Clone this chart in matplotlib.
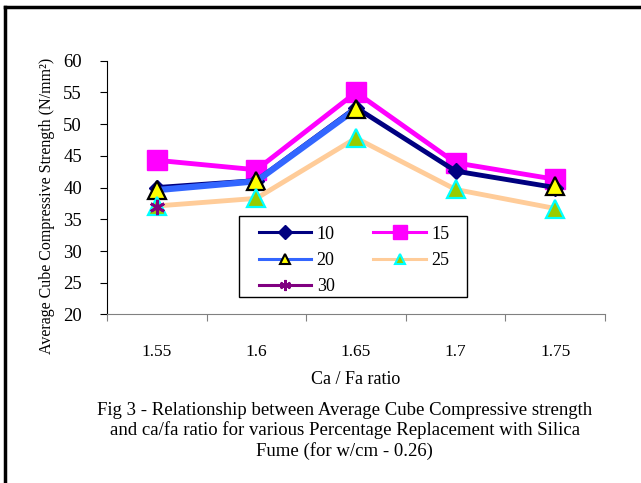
import numpy as np
import matplotlib
matplotlib.use("Agg")
import matplotlib.pyplot as plt
from matplotlib.lines import Line2D
from matplotlib.patches import Rectangle

plt.rcParams["font.family"] = ["Liberation Serif", "DejaVu Serif"]

# ca/fa ratios (categorical x axis)
ratios = ["1.55", "1.6", "1.65", "1.7", "1.75"]

# average cube compressive strength (N/mm2) per % silica fume replacement
sf10 = [40.0, 41.1, 52.6, 42.6, 40.0]
sf15 = [44.3, 42.8, 55.0, 43.9, 41.3]
sf20 = [39.6, 41.0, 52.4, np.nan, 40.2]
sf25 = [37.1, 38.3, 47.8, 39.7, 36.7]
sf30 = [36.9, np.nan, np.nan, np.nan, np.nan]

fig = plt.figure(figsize=(6.41, 4.83), dpi=100)
ax = fig.add_axes([0.1669, 0.3489, 0.777, 0.5255])
x = np.arange(len(ratios))

styles = [
    ("10", sf10, dict(color="#000080", lw=3.5, marker="D", ms=8,
                      mfc="#000080", mec="#000080")),
    ("15", sf15, dict(color="#FF00FF", lw=3.5, marker="s", ms=14,
                      mfc="#FF00FF", mec="#FF00FF")),
    ("20", sf20, dict(color="#3366FF", lw=4.5, marker="^", ms=13,
                      mfc="#FFFF00", mec="black", mew=1.6)),
    ("25", sf25, dict(color="#FFCC99", lw=3.5, marker="^", ms=13,
                      mfc="#99CC00", mec="#00FFFF", mew=1.6)),
    ("30", sf30, dict(color="#800080", lw=3.0, marker=(6, 2, 0), ms=11,
                      mfc="#800080", mec="#800080", mew=2.0)),
]
legend_ms = {"10": 7, "15": 9.5, "20": 7, "25": 7, "30": 8}

handles = {}
for i, (name, vals, st) in enumerate(styles):
    ax.plot(x, vals, zorder=3 + i, **st)
    # thinner copies of each style for the legend keys
    lst = dict(st)
    lst["lw"] = 2.2
    lst["ms"] = legend_ms[name]
    if "mew" in lst:
        lst["mew"] = min(lst["mew"], 1.5)
    handles[name] = Line2D([], [], **lst)

# navy line sits on top of the wide blue one
ax.lines[0].set_zorder(4.5)

ax.set_xlim(-0.5, len(ratios) - 0.5)
ax.set_ylim(20, 60)
ax.set_yticks(np.arange(20, 61, 5))
ax.set_xticks(np.arange(-0.5, len(ratios), 1.0))
ax.set_xticklabels([])
ax.set_xticks(x, minor=True)
ax.set_xticklabels(ratios, minor=True)
ax.tick_params(axis="x", which="minor", length=0, pad=21, labelsize=12.5)
ax.tick_params(axis="x", which="major", length=5, direction="out", color="#808080")
ax.tick_params(axis="y", length=5, direction="out", labelsize=13.5, pad=13)

for s in ("top", "right"):
    ax.spines[s].set_visible(False)
ax.spines["bottom"].set_color("#808080")
ax.spines["left"].set_color("black")

ax.set_xlabel("Ca / Fa ratio", fontsize=13)
ax.xaxis.set_label_coords(0.5, -0.222)
fig.text(0.073, 0.573, "Average Cube Compressive Strength (N/mm²)",
         rotation=90, ha="center", va="center", fontsize=11.5)

# legend box drawn separately so the entries can sit inside it freely
ax.add_patch(Rectangle((0.265, 0.069), 0.458, 0.319, transform=ax.transAxes,
                       facecolor="white", edgecolor="black", lw=1.0,
                       zorder=9, clip_on=False))
order = ["10", "20", "30", "15", "25"]
leg = ax.legend([handles[k] for k in order], order, ncol=2,
                loc="upper left", bbox_to_anchor=(0.305, 0.350),
                fontsize=13, handlelength=2.9, frameon=False,
                borderaxespad=0, borderpad=0, labelspacing=0.52,
                handletextpad=0.3, columnspacing=2.15)
leg.set_zorder(10)

fig.text(0.538, 0.108,
         "Fig 3 - Relationship between Average Cube Compressive strength\n"
         "and ca/fa ratio for various Percentage Replacement with Silica\n"
         "Fume (for w/cm - 0.26)",
         ha="center", va="center", fontsize=13.5, linespacing=1.2)

# outer page frame (left and top edges)
fig.add_artist(Line2D([0.0085, 0.0085], [0.0, 0.985], color="black", lw=2.5,
                      transform=fig.transFigure))
fig.add_artist(Line2D([0.0085, 1.0], [0.985, 0.985], color="black", lw=2.5,
                      transform=fig.transFigure))

fig.savefig("out.png", dpi=100)
